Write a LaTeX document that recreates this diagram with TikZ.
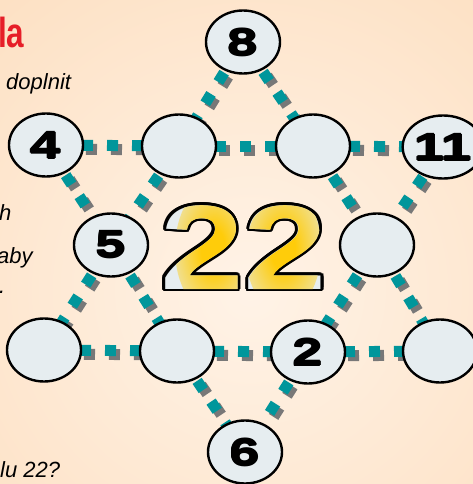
\documentclass[tikz,border=0pt]{standalone}
\usepackage{fontspec}
\setmainfont{Liberation Sans}
\newfontfamily\numfont[FakeStretch=1.42]{Liberation Sans}
\newfontfamily\bigfont[FakeStretch=1.25]{Liberation Sans}
\newfontfamily\condfont[FakeStretch=0.75]{Liberation Sans}
\usetikzlibrary{shapes.geometric}
\definecolor{bgin}{RGB}{255,243,231}
\definecolor{bgout}{RGB}{251,206,160}
\definecolor{dotteal}{RGB}{0,150,155}
\definecolor{dotshadow}{RGB}{120,120,120}
\definecolor{cellfill}{RGB}{230,237,240}
\definecolor{glowcore}{RGB}{255,204,10}
\colorlet{glowmid}{glowcore!40!cellfill}
\definecolor{titlered}{RGB}{230,30,40}
\pgfdeclareradialshading{glow}{\pgfpoint{0bp}{0bp}}{color(0bp)=(glowcore); color(8bp)=(glowcore); color(26bp)=(glowmid); color(50bp)=(cellfill)}
\pgfdeclareradialshading{bgshade}{\pgfpoint{0bp}{0bp}}{color(0bp)=(bgin); color(50bp)=(bgout)}
\pgfdeclarelayer{bg}
\pgfdeclarelayer{lines}
\pgfsetlayers{bg,lines,main}
\newcommand\heavy[1]{\rlap{\kern1pt#1}\rlap{\kern-1pt#1}\rlap{\raisebox{1pt}{#1}}\rlap{\raisebox{-1pt}{#1}}#1}
\newcommand\ocopy[3]{\rlap{\kern#1\raisebox{#2}{#3}}}
\tikzset{
  cell/.style={ellipse, draw=black, line width=2.4pt, fill=cellfill, minimum width=74pt, minimum height=63pt, inner sep=0pt, font={\numfont\bfseries\fontsize{38}{38}\selectfont}},
  dots/.style={line width=11pt, dash pattern=on 11pt off 14pt, dash phase=14pt, draw=dotteal},
  dotshade/.style={line width=11pt, dash pattern=on 11pt off 14pt, dash phase=14pt, draw=dotshadow},
  sidetext/.style={font={\itshape\fontsize{22}{22}\selectfont}, inner sep=0pt, anchor=base west},
}
\begin{document}
\begin{tikzpicture}[x=1pt,y=-1pt]
\useasboundingbox (0,0) rectangle (473,484);
\begin{pgfonlayer}{bg}
  \shade[shading=bgshade] (250,290) circle (385);
\end{pgfonlayer}
% cells
\node[cell] (n8) at (243,42) {\heavy{8}};
\node[cell] (n4) at (46,145) {\heavy{4}};
\node[cell] (e1) at (179,146) {};
\node[cell] (e2) at (313,146) {};
\node[cell] (n11) at (443,147) {\heavy{11}};
\node[cell] (n5) at (111,245) {\heavy{5}};
\node[cell] (e3) at (377,245) {};
\node[cell] (e4) at (44,350) {};
\node[cell] (e5) at (177,351) {};
\node[cell] (n2) at (308,352) {\heavy{2}};
\node[cell] (e6) at (440,351) {};
\node[cell] (n6) at (245,452) {\heavy{6}};
% connectors
\begin{pgfonlayer}{lines}
  \foreach \a/\b in {n8/e1,e1/n5,n5/e4,n8/e2,e2/e3,e3/e6,e4/e5,e5/n2,n2/e6,
                     n4/e1,e1/e2,e2/n11,n4/n5,n5/e5,e5/n6,n11/e3,e3/n2,n2/n6}{
    \draw[dotshade] ([shift={(4,4)}]\a.center) -- ([shift={(4,4)}]\b.center);
  }
  \foreach \a/\b in {n8/e1,e1/n5,n5/e4,n8/e2,e2/e3,e3/e6,e4/e5,e5/n2,n2/e6,
                     n4/e1,e1/e2,e2/n11,n4/n5,n5/e5,e5/n6,n11/e3,e3/n2,n2/n6}{
    \draw[dots] (\a.center) -- (\b.center);
  }
\end{pgfonlayer}
% big 22
\node[inner sep=0pt, anchor=base west] (big) at (160,289) {\bigfont\bfseries\fontsize{120}{120}\selectfont
  \ocopy{2.8pt}{0pt}{22}\ocopy{-2.8pt}{0pt}{22}\ocopy{0pt}{2.8pt}{22}\ocopy{0pt}{-2.8pt}{22}%
  \ocopy{2pt}{2pt}{22}\ocopy{2pt}{-2pt}{22}\ocopy{-2pt}{2pt}{22}\ocopy{-2pt}{-2pt}{22}%
  \ocopy{2.6pt}{1.1pt}{22}\ocopy{2.6pt}{-1.1pt}{22}\ocopy{-2.6pt}{1.1pt}{22}\ocopy{-2.6pt}{-1.1pt}{22}%
  \ocopy{1.1pt}{2.6pt}{22}\ocopy{1.1pt}{-2.6pt}{22}\ocopy{-1.1pt}{2.6pt}{22}\ocopy{-1.1pt}{-2.6pt}{22}%
  \rlap{\color{cellfill}22}%
  \special{pdf:literal q Q}\special{pdf:literal direct q 7 Tr}22\special{pdf:literal q Q}\special{pdf:literal direct 0 Tr}%
  \begin{tikzpicture}[overlay,x=1pt,y=1pt]
    \shade[shading=glow] (-114,40) ellipse (38 and 64);
    \shade[shading=glow] (-44,40) ellipse (38 and 64);
  \end{tikzpicture}%
  \special{pdf:literal direct Q}};
% side texts
\node[font={\condfont\bfseries\fontsize{42}{42}\selectfont}, text=titlered, inner sep=0pt, anchor=base west] (title) at (-2,48) {la};
\node[sidetext] (t1) at (6,90) {doplnit};
\node[sidetext] (t2) at (-1,220) {h};
\node[sidetext] (t3) at (-3,263) {aby};
\node[sidetext] (t4) at (-1,293) {.};
\node[sidetext] (t5) at (0,477) {lu 22?};
\end{tikzpicture}
\end{document}
